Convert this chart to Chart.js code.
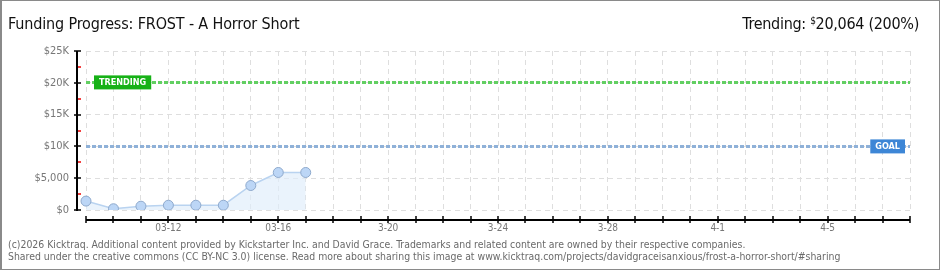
<!DOCTYPE html>
<html>
<head>
<meta charset="utf-8">
<script src="https://cdn.jsdelivr.net/npm/chart.js@4"></script>
<style>
    html, body { margin: 0; padding: 0; background: #fff; }
    #wrap { position: relative; width: 940px; height: 270px; box-sizing: border-box;
        border: 1px solid #8a8a8a; border-left: 2px solid #8a8a8a; overflow: hidden; }
    #chart { position: absolute; left: -2px; top: -1px; }
    .title { position: absolute; left: 6px; top: 13px; font: 16px "DejaVu Sans Condensed"; color: #111; white-space: nowrap; letter-spacing: -0.15px; }
    .trend { position: absolute; right: 20px; top: 13px; font: 16px "DejaVu Sans Condensed"; color: #111; white-space: nowrap; letter-spacing: -0.3px; }
    .trend sup { font-size: 10px; vertical-align: 5px; }
    .foot { position: absolute; left: 6px; font: 10.4px "DejaVu Sans Condensed"; color: #6a6a6a; white-space: nowrap; }
</style>
</head>
<body>
<div id="wrap">
    <canvas id="chart" width="940" height="270"></canvas>
    <div class="title">Funding Progress: FROST - A Horror Short</div>
    <div class="trend">Trending: <sup>$</sup>20,064 (200%)</div>
    <div class="foot" style="top:237px">(c)2026 Kicktraq. Additional content provided by Kickstarter Inc. and David Grace. Trademarks and related content are owned by their respective companies.</div>
    <div class="foot" style="top:249px">Shared under the creative commons (CC BY-NC 3.0) license. Read more about sharing this image at www.kicktraq.com/projects/davidgraceisanxious/frost-a-horror-short/#sharing</div>
</div>
<script>
// days 03-09 .. 04-08
var days = ['03-09', '03-10', '03-11', '03-12', '03-13', '03-14', '03-15', '03-16', '03-17', '03-18',
    '03-19', '03-20', '03-21', '03-22', '03-23', '03-24', '03-25', '03-26', '03-27', '03-28',
    '03-29', '03-30', '03-31', '04-01', '04-02', '04-03', '04-04', '04-05', '04-06', '04-07', '04-08'];
var pledged = [1400, 200, 600, 750, 750, 750, 3850, 5900, 5900];
var tickDays = ['03-12', '03-16', '03-20', '03-24', '03-28', '04-01', '04-05'];
var tickLabels = ['03-12', '03-16', '3-20', '3-24', '3-28', '4-1', '4-5'];
var yTicks = [0, 5000, 10000, 15000, 20000, 25000];
var yTickLabels = ['$0', '$5,000', '$10K', '$15K', '$20K', '$25K'];
var goal = 10000;
var trending = 20064;

var flat = function (v) { return days.map(function () { return v; }); };

// axis lines sit a bit away from the plot, drawn by hand
var offsetAxes = {
    id: 'offsetAxes',
    afterDraw: function (chart) {
        var ctx = chart.ctx, x = chart.scales.x, y = chart.scales.y, a = chart.chartArea;
        var ax = a.left - 9, ay = a.bottom + 10;
        ctx.save();
        ctx.strokeStyle = '#000';
        ctx.lineWidth = 2;
        ctx.beginPath();
        ctx.moveTo(ax, a.top); ctx.lineTo(ax, a.bottom + 1);
        ctx.moveTo(a.left, ay); ctx.lineTo(a.right, ay);
        ctx.stroke();
        ctx.lineWidth = 1.5;
        for (var v = 0; v <= 25000; v += 2500) {
            var py = Math.round(y.getPixelForValue(v));
            var major = v % 5000 === 0;
            ctx.strokeStyle = major ? '#000' : '#e00';
            ctx.beginPath();
            ctx.moveTo(major ? ax - 3 : ax + 1, py); ctx.lineTo(ax + 4, py);
            ctx.stroke();
        }
        ctx.strokeStyle = '#000';
        for (var i = 0; i < days.length; i++) {
            var px = Math.round(x.getPixelForValue(i));
            ctx.beginPath();
            ctx.moveTo(px, ay - 4); ctx.lineTo(px, ay + 3);
            ctx.stroke();
        }

        // tags on the goal and trending lines
        ctx.font = 'bold 9px "DejaVu Sans Condensed"';
        ctx.textBaseline = 'middle';
        var tag = function (text, left, right, val, color) {
            var py = y.getPixelForValue(val);
            var w = ctx.measureText(text).width + 10;
            var lx = left !== null ? left : right - w;
            ctx.fillStyle = color;
            ctx.fillRect(lx, py - 7, w, 14);
            ctx.fillStyle = '#fff';
            ctx.fillText(text, lx + 5, py + 0.5);
        };
        tag('TRENDING', a.left + 8, null, trending, '#16b116');
        tag('GOAL', null, a.right - 5, goal, '#3d86d6');
        ctx.restore();
    }
};

new Chart(document.getElementById('chart'), {
    type: 'line',
    data: {
        labels: days,
        datasets: [{
            data: pledged,
            borderColor: '#b9d3f0',
            borderWidth: 1.5,
            backgroundColor: 'rgba(222,236,251,0.65)',
            fill: 'origin',
            tension: 0,
            pointRadius: 5,
            pointBackgroundColor: '#bcd6f6',
            pointBorderColor: '#8ea9cc',
            pointBorderWidth: 1
        }, {
            data: flat(trending),
            borderColor: '#62cf62',
            borderWidth: 3,
            borderDash: [4, 2],
            pointRadius: 0,
            fill: false
        }, {
            data: flat(goal),
            borderColor: '#8fb1d8',
            borderWidth: 3,
            borderDash: [4, 2],
            pointRadius: 0,
            fill: false
        }]
    },
    plugins: [offsetAxes],
    options: {
        responsive: false,
        animation: false,
        layout: { padding: { top: 51, right: 30, bottom: 0, left: 0 } },
        plugins: { legend: { display: false }, tooltip: { enabled: false } },
        scales: {
            x: {
                offset: false,
                afterFit: function (s) { s.height = 60; },
                grid: { color: '#dedede', drawTicks: false },
                border: { display: false, dash: [5, 4] },
                ticks: {
                    autoSkip: false, maxRotation: 0, padding: 12,
                    color: '#777', font: { family: 'DejaVu Sans Condensed', size: 10 },
                    callback: function (v) {
                        var k = tickDays.indexOf(days[v]);
                        return k < 0 ? '' : tickLabels[k];
                    }
                }
            },
            y: {
                min: 0, max: 25000,
                afterFit: function (s) { s.width = 86; },
                afterBuildTicks: function (s) { s.ticks = yTicks.map(function (v) { return { value: v }; }); },
                grid: { color: '#dedede', drawTicks: false },
                border: { display: false, dash: [5, 4] },
                ticks: {
                    padding: 17, color: '#777', font: { family: 'DejaVu Sans Condensed', size: 11 },
                    callback: function (v) { return yTickLabels[yTicks.indexOf(v)]; }
                }
            }
        }
    }
});
</script>
</body>
</html>
